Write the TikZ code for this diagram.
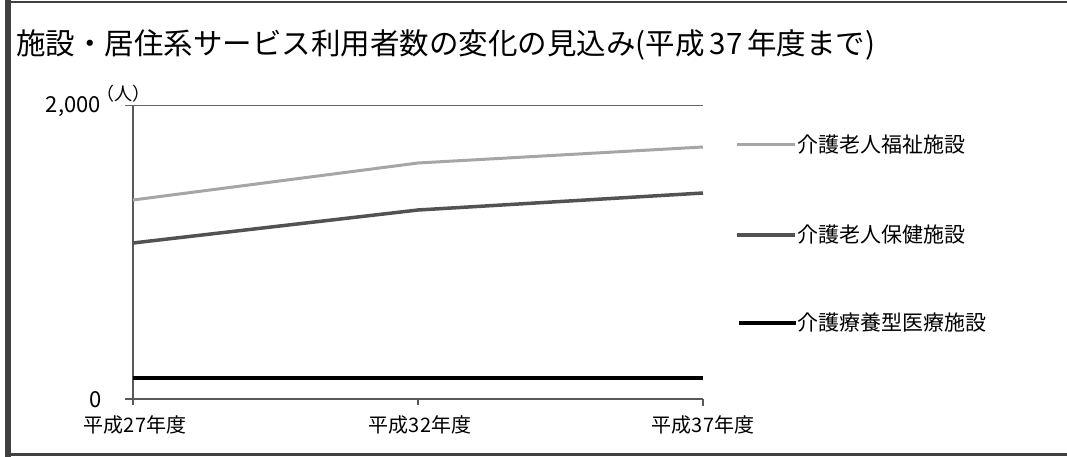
\documentclass[tikz,border=0pt]{standalone}
\usepackage{fontspec}
\setmainfont{Noto Sans CJK JP}
\begin{document}
\begin{tikzpicture}[x=1pt,y=-1pt,
  framebar/.style={draw=black!75},
  axisline/.style={draw=black!65, line width=1.1pt},
  gridline/.style={draw=black!60, line width=1pt},
  serA/.style={draw=black!35, line width=3pt},
  serB/.style={draw=black!68, line width=3.5pt},
  serC/.style={draw=black, line width=3.5pt},
  titletext/.style={font=\fontsize{29.5}{34}\selectfont, anchor=west, inner sep=0pt},
  ticktext/.style={font=\fontsize{20}{24}\selectfont, inner sep=0pt},
  valtext/.style={font=\fontsize{22}{26}\selectfont, inner sep=0pt},
  legtext/.style={font=\fontsize{21}{24}\selectfont, anchor=west, inner sep=0pt}]
\useasboundingbox (0,0) rectangle (1067,457);
\fill[white] (0,0) rectangle (1067,457);
% frame
\draw[framebar, line width=6pt] (8,0) -- (8,457);
\draw[framebar, line width=2.5pt] (5,2) -- (1067,2);
\draw[framebar, line width=2.5pt] (5,454.5) -- (1067,454.5);
% title
\node[titletext] (title) at (16,45) {施設・居住系サービス利用者数の変化の見込み(平成\hspace{5pt}37\hspace{5pt}年度まで)};
% axes
\coordinate (ytop) at (133,106);
\coordinate (ybot) at (133,405);
\coordinate (gl) at (125,106);
\coordinate (gr) at (703,106);
\coordinate (zl) at (125,399);
\coordinate (zr) at (703,399);
\draw[gridline] (gl) -- (gr);
\draw[axisline] (zl) -- (zr);
\draw[axisline] (ytop) -- (ybot);
\coordinate (t2a) at (418,399); \coordinate (t2b) at (418,405);
\coordinate (t3a) at (703,399); \coordinate (t3b) at (703,406);
\draw[axisline] (t2a) -- (t2b);
\draw[axisline] (t3a) -- (t3b);
% axis labels
\node[valtext, anchor=east] (v2000) at (101,107) {2,000};
\node[valtext, anchor=east] (v0) at (102,400) {0};
\node[font=\fontsize{18}{21}\selectfont, inner sep=0pt, anchor=west] (unit) at (96,94) {（人）};
\node[ticktext] (c1) at (135,425) {平成27年度};
\node[ticktext] (c2) at (420,425) {平成32年度};
\node[ticktext] (c3) at (703,425) {平成37年度};
% series
\coordinate (f1) at (133,200); \coordinate (f2) at (418,163); \coordinate (f3) at (703,147);
\coordinate (h1) at (133,243); \coordinate (h2) at (418,210); \coordinate (h3) at (703,193);
\coordinate (r1) at (133,378); \coordinate (r3) at (703,378);
\draw[serA] (f1) -- (f2) -- (f3);
\draw[serB] (h1) -- (h2) -- (h3);
\draw[serC] (r1) -- (r3);
% legend
\coordinate (la1) at (737,145); \coordinate (la2) at (795,145);
\coordinate (lb1) at (737,235); \coordinate (lb2) at (795,235);
\coordinate (lc1) at (739,323); \coordinate (lc2) at (796,323);
\draw[serA] (la1) -- (la2);
\draw[serB] (lb1) -- (lb2);
\draw[serC] (lc1) -- (lc2);
\node[legtext] (legA) at (797,145) {介護老人福祉施設};
\node[legtext] (legB) at (797,235) {介護老人保健施設};
\node[legtext] (legC) at (797,323) {介護療養型医療施設};
\end{tikzpicture}
\end{document}
